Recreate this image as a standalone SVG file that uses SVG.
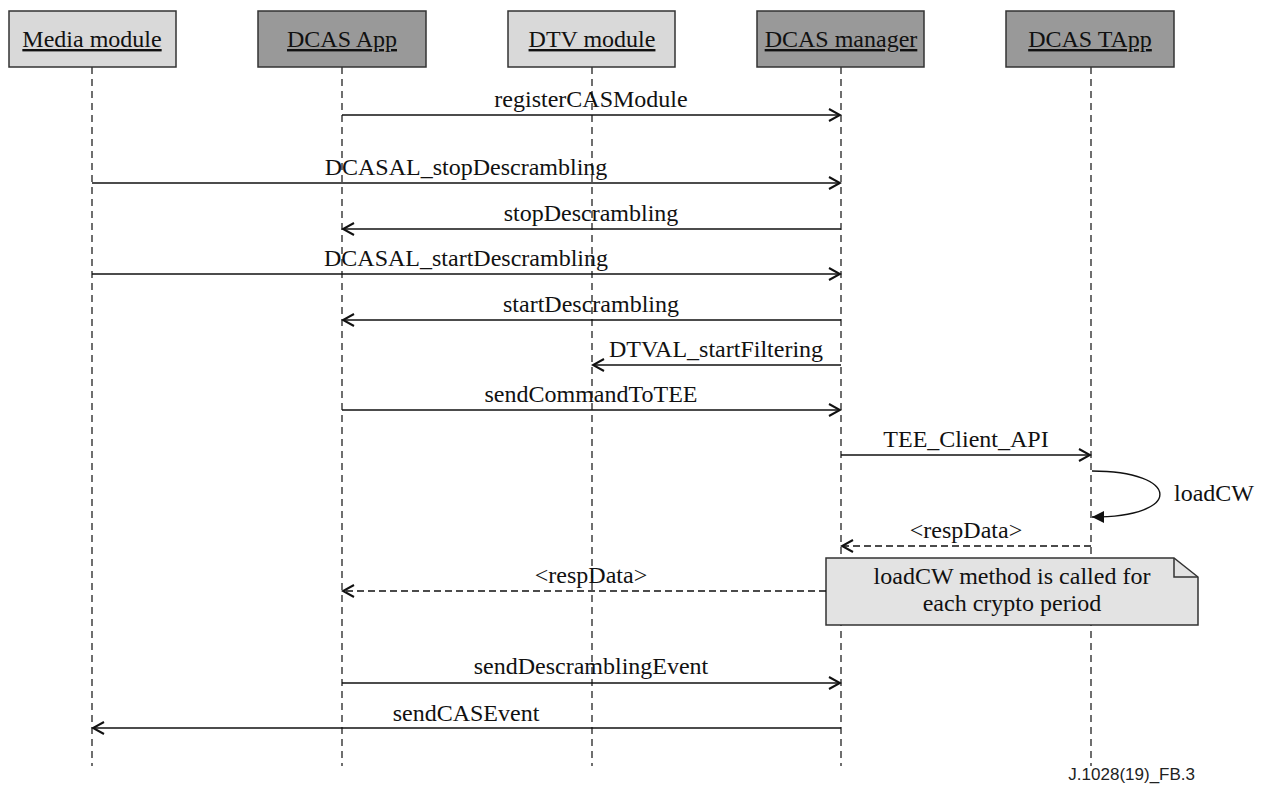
<svg xmlns="http://www.w3.org/2000/svg" width="1264" height="791" viewBox="0 0 1264 791">
<style>
.box{stroke:#333;stroke-width:1.5}
.light{fill:#d9d9d9}
.dark{fill:#999}
.hd{font-family:"Liberation Serif",serif;font-size:24px;text-anchor:middle;text-decoration:underline;fill:#111}
.lbl{font-family:"Liberation Serif",serif;font-size:24px;text-anchor:middle;fill:#111}
.life{stroke:#222;stroke-width:1.3;stroke-dasharray:7,5;fill:none}
.msg{stroke:#111;stroke-width:1.4;fill:none}
.ret{stroke:#111;stroke-width:1.4;fill:none;stroke-dasharray:7,4}
</style>
<defs>
<marker id="open" markerWidth="14" markerHeight="14" refX="12" refY="7" orient="auto" markerUnits="userSpaceOnUse">
<path d="M1,1 L12,7 L1,13" fill="none" stroke="#111" stroke-width="2"/>
</marker>
<marker id="fill" markerWidth="14" markerHeight="14" refX="12" refY="7" orient="auto" markerUnits="userSpaceOnUse">
<path d="M0,1 L12,7 L0,13 Z" fill="#111"/>
</marker>
</defs>
<rect width="1264" height="791" fill="#fff"/>
<g id="lifelines">
<line class="life" x1="92" y1="67" x2="92" y2="766"/>
<line class="life" x1="342" y1="67" x2="342" y2="766"/>
<line class="life" x1="592" y1="67" x2="592" y2="766"/>
<line class="life" x1="841" y1="67" x2="841" y2="766"/>
<line class="life" x1="1091" y1="67" x2="1091" y2="766"/>
</g>
<g id="media"><rect class="box light" x="9" y="11" width="167" height="56"/><text class="hd" x="92" y="47">Media module</text></g>
<g id="dcasapp"><rect class="box dark" x="258" y="11" width="168" height="56"/><text class="hd" x="342" y="47">DCAS App</text></g>
<g id="dtv"><rect class="box light" x="508" y="11" width="167" height="56"/><text class="hd" x="592" y="47">DTV module</text></g>
<g id="manager"><rect class="box dark" x="757" y="11" width="167" height="56"/><text class="hd" x="841" y="47">DCAS manager</text></g>
<g id="tapp"><rect class="box dark" x="1006" y="11" width="168" height="56"/><text class="hd" x="1090" y="47">DCAS TApp</text></g>
<g id="note">
<path d="M826,558 H1174 L1198,577 V625 H826 Z" fill="#e3e3e3" stroke="#333" stroke-width="1.5"/>
<path d="M1174,558 V577 H1198" fill="none" stroke="#333" stroke-width="1.5"/>
<text class="lbl" x="1012" y="584">loadCW method is called for</text>
<text class="lbl" x="1012" y="611">each crypto period</text>
</g>
<g id="connectors">
<line class="msg" x1="342" y1="115" x2="840" y2="115" marker-end="url(#open)"/>
<text class="lbl" x="591" y="107">registerCASModule</text>
<line class="msg" x1="92" y1="183" x2="840" y2="183" marker-end="url(#open)"/>
<text class="lbl" x="466" y="175">DCASAL_stopDescrambling</text>
<line class="msg" x1="841" y1="229" x2="343" y2="229" marker-end="url(#open)"/>
<text class="lbl" x="591" y="221">stopDescrambling</text>
<line class="msg" x1="92" y1="274" x2="840" y2="274" marker-end="url(#open)"/>
<text class="lbl" x="466" y="266">DCASAL_startDescrambling</text>
<line class="msg" x1="841" y1="320" x2="343" y2="320" marker-end="url(#open)"/>
<text class="lbl" x="591" y="312">startDescrambling</text>
<line class="msg" x1="841" y1="365" x2="593" y2="365" marker-end="url(#open)"/>
<text class="lbl" x="716" y="357">DTVAL_startFiltering</text>
<line class="msg" x1="342" y1="410" x2="840" y2="410" marker-end="url(#open)"/>
<text class="lbl" x="591" y="402">sendCommandToTEE</text>
<line class="msg" x1="841" y1="455" x2="1090" y2="455" marker-end="url(#open)"/>
<text class="lbl" x="966" y="447">TEE_Client_API</text>
<path class="msg" d="M1092,471 C1180,471 1185,517 1092,517" marker-end="url(#fill)"/>
<text class="lbl" x="1174" y="501" style="text-anchor:start">loadCW</text>
<line class="ret" x1="1091" y1="546" x2="842" y2="546" marker-end="url(#open)"/>
<text class="lbl" x="966" y="538">&lt;respData&gt;</text>
<line class="ret" x1="826" y1="591" x2="343" y2="591" marker-end="url(#open)"/>
<text class="lbl" x="591" y="583">&lt;respData&gt;</text>
<line class="msg" x1="342" y1="683" x2="840" y2="683" marker-end="url(#open)"/>
<text class="lbl" x="591" y="674">sendDescramblingEvent</text>
<line class="msg" x1="841" y1="728" x2="93" y2="728" marker-end="url(#open)"/>
<text class="lbl" x="466" y="721">sendCASEvent</text>
</g>
<text x="1195" y="780" style="font-family:'Liberation Sans',Arial,sans-serif;font-size:17px;text-anchor:end;fill:#222">J.1028(19)_FB.3</text>
</svg>
